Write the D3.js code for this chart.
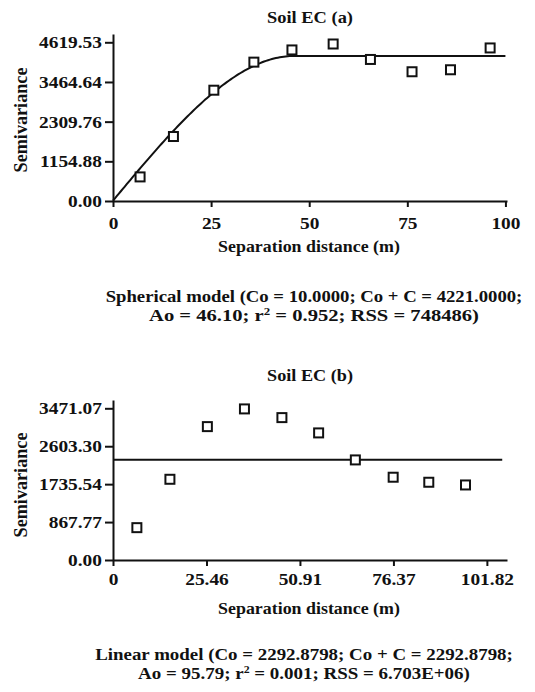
<!DOCTYPE html>
<html>
<head>
<meta charset="utf-8">
<script src="https://cdn.jsdelivr.net/npm/d3@7"></script>
<style>
  html, body { margin: 0; padding: 0; background: #fff; }
  svg text { font-family: 'Liberation Serif', 'DejaVu Serif', 'Times New Roman', serif; font-weight: bold; fill: #111; }
</style>
</head>
<body>
<svg id="chart" width="535" height="692"></svg>
<script>
// ---------- Data ----------
// Panel (a): Soil EC, spherical model
const lagsA = [6.9, 15.4, 25.7, 35.9, 45.6, 56.1, 65.6, 76.2, 86.0, 96.1];
const semivarA = [701, 1877, 3225, 4042, 4397, 4570, 4120, 3762, 3820, 4455];
const xTicksA = [0, 25, 50, 75, 100];
const yTicksA = [0, 1154.88, 2309.76, 3464.64, 4619.53];
const modelA = { Co: 10.0, CoC: 4221.0, Ao: 46.10 };
const titleA = "Soil EC (a)";
const captionA = ["Spherical model (Co = 10.0000; Co + C = 4221.0000;",
                  "Ao = 46.10; r² = 0.952; RSS = 748486)"];

// Panel (b): Soil EC, linear (nugget) model
const lagsB = [6.5, 15.5, 25.7, 35.8, 46.0, 56.0, 66.0, 76.3, 86.0, 96.0];
const semivarB = [740, 1847, 3052, 3457, 3258, 2908, 2290, 1894, 1779, 1717];
const xTicksB = [0, 25.46, 50.91, 76.37, 101.82];
const yTicksB = [0, 867.77, 1735.54, 2603.30, 3471.07];
const modelB = { Co: 2292.8798, CoC: 2292.8798, Ao: 95.79 };
const titleB = "Soil EC (b)";
const captionB = ["Linear model (Co = 2292.8798; Co + C = 2292.8798;",
                  "Ao = 95.79; r² = 0.001; RSS = 6.703E+06)"];

const xLabel = "Separation distance (m)";
const yLabel = "Semivariance";

// ---------- Drawing ----------
const svg = d3.select("#chart");
const FONT = "'Liberation Serif', 'DejaVu Serif', 'Times New Roman', serif";

function spherical(h, m) {
  if (h >= m.Ao) return m.CoC;
  const r = h / m.Ao;
  return m.Co + (m.CoC - m.Co) * (1.5 * r - 0.5 * r * r * r);
}

// text stretched horizontally to a target width (the reference type is wide)
function fitText(parent, cx, cy, size, width, content, rotate) {
  const g = parent.append("g").attr("transform", `translate(${cx},${cy})` + (rotate ? " rotate(-90)" : ""));
  const t = g.append("text").attr("text-anchor", "middle").style("font-size", size + "px");
  content(t);
  const w = t.node().getComputedTextLength();
  t.attr("transform", `scale(${width / w},1)`);
  return t;
}

function withSup(t, s) {
  if (s.includes("r²")) {
    const parts = s.split("r²");
    t.append("tspan").text(parts[0] + "r");
    t.append("tspan").attr("dy", -6).style("font-size", "10px").text("2");
    t.append("tspan").attr("dy", 6).text(parts[1]);
  } else t.text(s);
}

function panel(cfg) {
  const g = svg.append("g");
  const x = d3.scaleLinear().domain(cfg.xDomain).range([113, 507]);
  const y = d3.scaleLinear().domain(cfg.yDomain).range([cfg.bottom, cfg.top]);

  // model line
  let line;
  if (cfg.type === "spherical") {
    const hs = d3.range(0, cfg.modelEnd + 0.001, 0.5);
    line = hs.map(h => [x(h), y(spherical(h, cfg.model))]);
  } else {
    line = [[x(0), y(cfg.model.CoC)], [x(cfg.modelEnd), y(cfg.model.CoC)]];
  }
  g.append("path")
    .attr("d", d3.line()(line))
    .attr("fill", "none")
    .attr("stroke", "#111")
    .attr("stroke-width", 2);

  // axes
  const yAxis = d3.axisLeft(y).tickValues(cfg.yTicks)
    .tickFormat(d3.format(".2f")).tickSize(8).tickSizeOuter(0);
  const ya = g.append("g").attr("transform", "translate(113,0)").call(yAxis);
  const xAxis = d3.axisBottom(x).tickValues(cfg.xTicks)
    .tickFormat(cfg.xFmt).tickSize(6).tickSizeOuter(0);
  const xa = g.append("g").attr("transform", `translate(0,${cfg.bottom})`).call(xAxis);
  [ya, xa].forEach(a => {
    a.select(".domain").attr("stroke", "#111").attr("stroke-width", 2);
    a.selectAll(".tick line").attr("stroke", "#111").attr("stroke-width", 2);
    a.selectAll(".tick text").attr("fill", "#111")
      .style("font-family", FONT)
      .style("font-weight", "bold").style("font-size", "17px");
  });
  ya.selectAll(".tick text").attr("x", 0).attr("dy", "0.33em")
    .attr("transform", "translate(-11,0) scale(1.14,1)");
  xa.selectAll(".tick text").attr("y", 0).attr("dy", 0)
    .attr("transform", `translate(0,${cfg.xTickBase}) scale(1.14,1)`);

  // points
  g.selectAll("rect.pt").data(cfg.lags.map((l, i) => [l, cfg.vals[i]]))
    .enter().append("rect").attr("class", "pt")
    .attr("x", d => x(d[0]) - 4.5).attr("y", d => y(d[1]) - 4.5)
    .attr("width", 9).attr("height", 9)
    .attr("fill", "#fff").attr("stroke", "#111").attr("stroke-width", 2);

  // title
  fitText(g, 310, cfg.titleY, 17, 86, t => t.text(cfg.title));
  // x label
  fitText(g, 309, cfg.xLabelY, 17, 182, t => t.text(xLabel));
  // y label
  fitText(g, 27, cfg.yLabelC, 19, 105, t => t.text(yLabel), true);
  // caption
  cfg.caption.forEach((s, i) => {
    fitText(g, cfg.capX, cfg.capY + i * 19, 16, cfg.capW[i], t => withSup(t, s));
  });
}

panel({
  type: "spherical", lags: lagsA, vals: semivarA, model: modelA,
  xDomain: [0, 100.4], yDomain: [0, 4861], top: 34, bottom: 201,
  xTicks: xTicksA, yTicks: yTicksA, xFmt: d3.format("d"), modelEnd: 100,
  xTickBase: 28, yLabelC: 120,
  title: titleA, titleY: 23, xLabelY: 252, caption: captionA,
  capX: 314, capY: 302, capW: [417, 330]
});

panel({
  type: "linear", lags: lagsB, vals: semivarB, model: modelB,
  xDomain: [0, 107.3], yDomain: [0, 3661], top: 400, bottom: 560,
  xTicks: xTicksB, yTicks: yTicksB, xFmt: d => d === 0 ? "0" : d3.format(".2f")(d), modelEnd: 106,
  xTickBase: 25, yLabelC: 485,
  title: titleB, titleY: 381, xLabelY: 614, caption: captionB,
  capX: 304, capY: 660, capW: [418, 332]
});
</script>
</body>
</html>
